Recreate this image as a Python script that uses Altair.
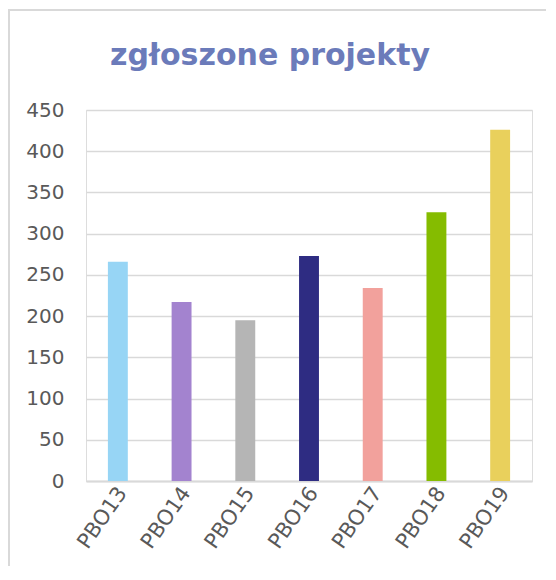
import altair as alt
import pandas as pd

categories = ["PBO13", "PBO14", "PBO15", "PBO16", "PBO17", "PBO18", "PBO19"]
values = [266, 217, 195, 273, 234, 326, 426]
colors = ["#97D5F5", "#A383CF", "#B5B5B5", "#2E2C82", "#F2A19C", "#85BC00", "#E9D05C"]
y_ticks = [0, 50, 100, 150, 200, 250, 300, 350, 400, 450]
title_text = "zgłoszone projekty"

FONT = "DejaVu Sans"
GRID = "#D9D9D9"
LABEL = "#595959"

df = pd.DataFrame({"kategoria": categories, "liczba": values, "kolor": colors})

bars = alt.Chart(df).mark_bar().encode(
    x=alt.X(
        "kategoria:N",
        sort=categories,
        scale=alt.Scale(paddingInner=0.6875, paddingOuter=0.34375),
        axis=alt.Axis(
            title=None,
            labelAngle=-55,
            labelAlign="right",
            labelBaseline="middle",
            labelFontSize=21,
            labelFont=FONT,
            labelColor=LABEL,
            labelPadding=8,
            labelOffset=5,
            ticks=False,
            grid=False,
            domain=True,
            domainColor=GRID,
            domainWidth=2,
        ),
    ),
    y=alt.Y(
        "liczba:Q",
        scale=alt.Scale(domain=[0, 450], nice=False),
        axis=alt.Axis(
            title=None,
            values=y_ticks,
            labelFontSize=20,
            labelFont=FONT,
            labelColor=LABEL,
            labelPadding=22,
            ticks=False,
            domain=False,
            grid=True,
            gridColor=GRID,
            gridWidth=1.5,
        ),
    ),
    color=alt.Color("kolor:N", scale=None, legend=None),
)

frame_df = pd.DataFrame({"f": [0]})
frame_top = alt.Chart(frame_df).mark_rule(color=GRID, strokeWidth=2).encode(
    x=alt.value(-78), x2=alt.value(470), y=alt.value(-100)
)
frame_left = alt.Chart(frame_df).mark_rule(color=GRID, strokeWidth=2).encode(
    x=alt.value(-77), y=alt.value(-100), y2=alt.value(480)
)

chart = (
    alt.layer(frame_top, frame_left, bars)
    .properties(
        width=446,
        height=371,
        autosize=alt.AutoSizeParams(type="none"),
        padding={"left": 78, "top": 102, "right": 14, "bottom": 85},
        title=alt.TitleParams(
            title_text,
            font=FONT,
            fontSize=30,
            fontWeight="bold",
            color="#6B7BBA",
            anchor="middle",
            dx=-39,
            offset=-62,
        ),
    )
    .configure_view(stroke=None)
    .configure(background="white")
)

chart.save("out.html", embed_options={"renderer": "svg", "actions": False})
